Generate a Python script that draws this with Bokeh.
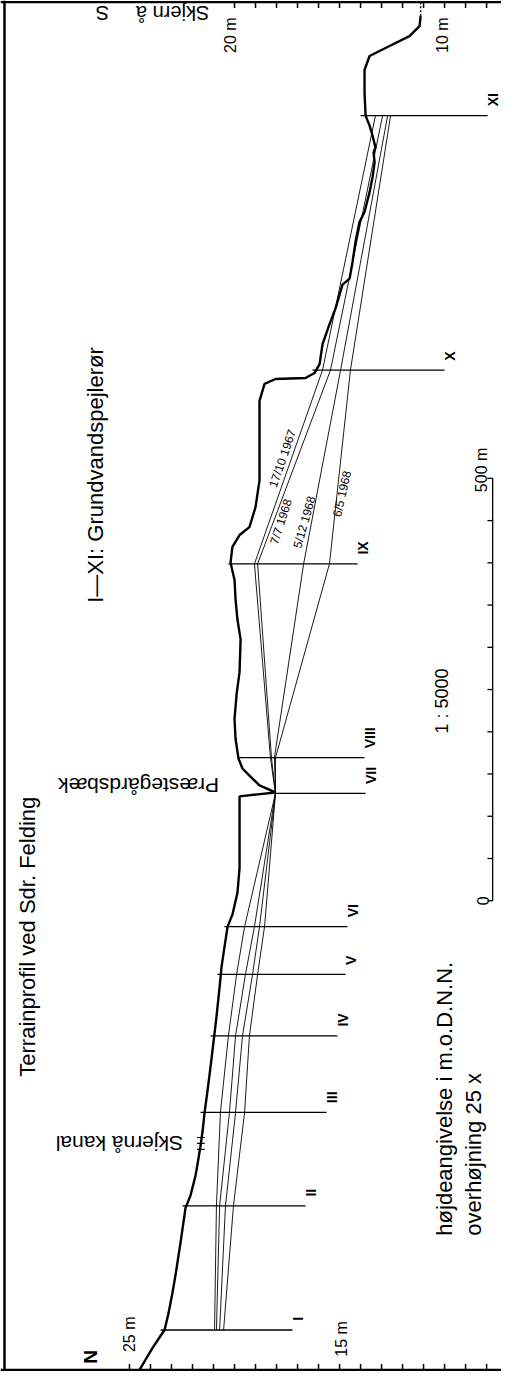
import numpy as np
from bokeh.plotting import figure
from bokeh.models import Range1d, Span
from bokeh.core.properties import value
from bokeh.embed import file_html
from bokeh.resources import INLINE

# ---- terrain profile (distance from N end in m, elevation in m o. D.N.N.)
terrain_dist = [0, 11.8, 25.9, 36.5, 47.1, 67.1, 91.8, 111.8, 150.6, 191.8, 205.9, 229.4,
                243.5, 264.7, 282.4, 303.5, 329.4, 358.8, 388.2, 417.6, 452.9, 476.5, 500,
                524.7, 538.8, 564.7, 594.1, 649.4, 678.8, 681.2, 683.5, 691.8, 703.5, 711.8,
                723.5, 747.1, 770.6, 800, 825.9, 864.7, 888.2, 911.8, 935.3, 955.3, 974.1,
                988.2, 997.6, 1021.2, 1052.9, 1100, 1147.1, 1167.1, 1172.9, 1174.1, 1180,
                1190.6, 1214.1, 1237.6, 1256.5, 1284.7, 1291.8, 1311.8, 1335.3, 1358.8,
                1370.6, 1394.1, 1411.8, 1429.4, 1441.2, 1447.1, 1461.2, 1472.9, 1484.7,
                1511.8, 1538.8, 1555.3, 1567.1, 1578.8, 1590.6, 1602.4]
terrain_elev = [24.52, 24.24, 23.90, 23.62, 23.33, 23.14, 22.95, 22.81, 22.57, 22.33, 22.10,
                21.86, 21.76, 21.62, 21.52, 21.43, 21.29, 21.14, 21.00, 20.86, 20.71, 20.62,
                20.48, 20.33, 20.10, 19.86, 19.76, 19.76, 19.76, 18.90, 18.05, 18.81, 19.29,
                19.62, 19.81, 19.95, 20.00, 19.90, 19.76, 19.71, 19.86, 19.95, 20.00, 20.19,
                20.10, 19.76, 19.29, 19.00, 18.81, 18.81, 18.81, 18.57, 18.05, 16.62, 16.19,
                15.95, 15.81, 15.48, 15.19, 14.86, 14.52, 14.38, 14.24, 14.05, 13.81, 13.57,
                13.43, 13.33, 13.38, 13.29, 13.43, 13.57, 13.76, 13.81, 13.81, 13.57, 12.62,
                11.67, 11.19, 11.14]

# ---- observation wells I-XI
well_names = ["I", "II", "III", "IV", "V", "VI", "VII", "VIII", "IX", "X", "XI"]
well_dist = [47.1, 194.1, 304.7, 395.3, 468.2, 524.7, 682.4, 724.7, 954.1, 1183.5, 1484.7]
well_top = [23.52, 22.48, 21.62, 21.14, 20.81, 20.48, 18.05, 19.86, 20.29, 16.29, 14.00]
well_bottom = [17.24, 16.62, 15.62, 15.10, 14.71, 14.62, 13.76, 13.81, 14.14, 10.00, 7.95]

# ---- groundwater tables at the wells (m o. D.N.N.)
wt_17_10_1967 = [20.95, 20.86, 20.67, 20.29, 19.90, 19.52, 18.05, 18.29, 19.05, 15.81, 13.29]
wt_7_7_1968 = [20.86, 20.71, 20.24, 19.95, 19.48, 19.05, 18.05, 18.24, 18.90, 15.43, 12.95]
wt_5_12_1968 = [20.71, 20.43, 19.95, 19.62, 19.14, 18.81, 18.05, 18.10, 16.71, 14.95, 12.71]
wt_6_5_1968 = [20.52, 20.05, 19.52, 19.29, 18.90, 18.57, 18.05, 18.05, 15.48, 14.48, 12.57]
wt_labels = ["17/10 1967", "7/7  1968", "5/12 1968", "6/5  1968"]

# ---- axis ticks (elevation) and scale bar (distance)
bottom_ticks = list(range(8, 26))
top_ticks = list(range(8, 21))
scale_ticks = list(range(0, 501, 50))

FONT = value("Liberation Sans")
D_TOP = 1619.0
E_LEFT = 30.95

p = figure(width=501, height=1371, x_range=Range1d(31.14, 7.29), y_range=Range1d(-2, 1621),
           output_backend="svg", toolbar_location=None, min_border=0,
           x_axis_location=None, y_axis_location=None)
p.grid.visible = False
p.outline_line_color = None
p.background_fill_color = "white"

# frame
p.add_layout(Span(location=E_LEFT, dimension="height", line_color="black", line_width=2.5))
p.add_layout(Span(location=0, dimension="width", line_color="black", line_width=2.2))
p.add_layout(Span(location=D_TOP, dimension="width", line_color="black", line_width=2.2))

# elevation ticks on bottom and top edges
p.segment(x0=bottom_ticks, y0=[0] * len(bottom_ticks), x1=bottom_ticks,
          y1=[7] * len(bottom_ticks), line_color="black", line_width=1.5)
p.segment(x0=top_ticks, y0=[D_TOP] * len(top_ticks), x1=top_ticks,
          y1=[D_TOP - 7] * len(top_ticks), line_color="black", line_width=1.5)

# wells
p.segment(x0=well_top, y0=well_dist, x1=well_bottom, y1=well_dist,
          line_color="black", line_width=1.3)

# groundwater table lines
for wt in (wt_17_10_1967, wt_7_7_1968, wt_5_12_1968, wt_6_5_1968):
    p.line(wt, well_dist, line_color="black", line_width=0.9)

# terrain
p.line(terrain_elev, terrain_dist, line_color="black", line_width=2.4)
p.line([terrain_elev[-1]] * 2, [terrain_dist[-1], D_TOP], line_color="black",
       line_width=1.5, line_dash="2 2")

# Skjernå kanal crossing marks
kanal_d = 268.0
kanal_e = float(np.interp(kanal_d, terrain_dist, terrain_elev))
p.segment(x0=[kanal_e + 0.18] * 3, y0=[kanal_d - 7, kanal_d, kanal_d + 7],
          x1=[kanal_e - 0.18] * 3, y1=[kanal_d - 7, kanal_d, kanal_d + 7],
          line_color="black", line_width=1.2)

# scale bar
SB_E = 7.71
SB_D0 = 555.3
p.segment(x0=[SB_E], y0=[SB_D0], x1=[SB_E], y1=[SB_D0 + 500], line_color="black", line_width=1.3)
p.segment(x0=[SB_E] * len(scale_ticks), y0=[SB_D0 + t for t in scale_ticks],
          x1=[SB_E + 0.25] * len(scale_ticks), y1=[SB_D0 + t for t in scale_ticks],
          line_color="black", line_width=1.3)
p.text(x=[SB_E + 0.48], y=[SB_D0], text=["0"], angle=np.pi / 2, text_font=FONT,
       text_font_size="16px", text_align="center", text_baseline="middle")
p.text(x=[SB_E + 0.52], y=[SB_D0 + 510], text=["500 m"], angle=np.pi / 2, text_font=FONT,
       text_font_size="16px", text_align="center", text_baseline="middle")

# well labels
p.text(x=[b - 0.25 for b in well_bottom], y=[d + 11 for d in well_dist], text=well_names,
       angle=np.pi / 2, text_font=FONT, text_font_size="14px", text_font_style="bold",
       text_align="left", text_baseline="middle")

# groundwater labels
p.text(x=[17.71, 17.76, 16.67, 14.86], y=[1078.8, 1005.9, 1003.5, 1038.8], text=wt_labels,
       angle=[np.radians(71), np.radians(72), np.radians(74), np.radians(77)],
       text_font=FONT, text_font_size="12px",
       text_align="center", text_baseline="middle")

# elevation labels
p.text(x=[25.0, 14.9], y=[42, 36.5], text=["25 m", "15 m"], angle=np.pi / 2, text_font=FONT,
       text_font_size="16px", text_align="center", text_baseline="middle")
p.text(x=[20.19, 10.1], y=[1580, 1580], text=["20 m", "10 m"], angle=np.pi / 2, text_font=FONT,
       text_font_size="16px", text_align="center", text_baseline="middle")
p.text(x=[26.86], y=[15.3], text=["N"], angle=np.pi / 2, text_font=FONT,
       text_font_size="19px", text_font_style="bold", text_align="center", text_baseline="middle")

# titles and notes (reading upward)
p.text(x=[29.86, 26.62, 10.0, 8.62], y=[347, 908, 158.8, 158.8],
       text=["Terrainprofil ved Sdr. Felding", "I\u2014XI: Grundvandspejlerør",
             "højdeangivelse i m.o.D.N.N.", "overhøjning  25 x"],
       angle=np.pi / 2, text_font=FONT, text_font_size="22px",
       text_align="left", text_baseline="middle")
p.text(x=[10.14], y=[791.8], text=["1 : 5000"], angle=np.pi / 2, text_font=FONT,
       text_font_size="18px", text_align="center", text_baseline="middle")

# upside-down place names
p.text(x=[24.57, 25.48], y=[692, 268], text=["Præstegårdsbæk", "Skjernå kanal"],
       angle=np.pi, text_font=FONT, text_font_size="21px",
       text_align="center", text_baseline="middle")
p.text(x=[22.95, 26.29], y=[1606, 1606], text=["Skjern å", "S"],
       angle=np.pi, text_font=FONT, text_font_size="20px",
       text_align="center", text_baseline="middle")

open("out.html", "w").write(file_html(p, INLINE))
